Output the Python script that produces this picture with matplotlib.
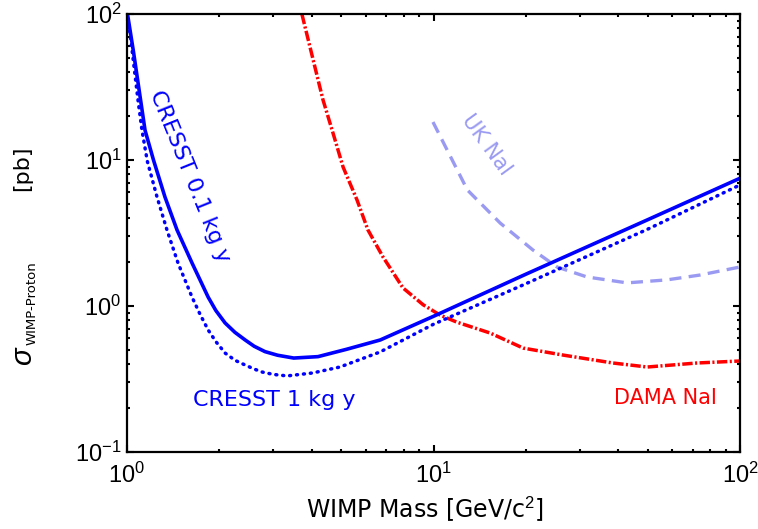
import numpy as np
import matplotlib
matplotlib.use("Agg")
import matplotlib.pyplot as plt
from matplotlib.ticker import LogLocator, FuncFormatter, NullFormatter

plt.rcParams['mathtext.fontset'] = 'custom'
plt.rcParams['mathtext.rm'] = 'Liberation Sans'
plt.rcParams['mathtext.it'] = 'Liberation Sans:italic'

# --- curves (WIMP mass in GeV/c^2, cross section in pb) ---
cresst01_mass = [1.0, 1.05, 1.145, 1.22, 1.33, 1.456, 1.63, 1.84, 1.95, 2.09, 2.25,
                 2.43, 2.6, 2.82, 3.1, 3.5, 4.2, 5.2, 6.7, 10, 20, 50, 100]
cresst01_sigma = [105, 55, 16.0, 10, 5.58, 3.32, 1.97, 1.15, 0.93, 0.765, 0.66,
                  0.585, 0.53, 0.487, 0.46, 0.44, 0.45, 0.505, 0.585, 0.85, 1.65, 3.9, 7.5]

cresst1_mass = [1.0, 1.023, 1.086, 1.119, 1.165, 1.253, 1.35, 1.467, 1.63, 1.73, 1.84,
                1.95, 2.09, 2.25, 2.43, 2.6, 2.76, 3.0, 3.33, 4.04, 4.95, 6.69, 10,
                20, 50, 100]
cresst1_sigma = [95, 74, 25.8, 16.0, 9.8, 5.58, 3.32, 1.97, 1.15, 0.88, 0.685,
                 0.57, 0.476, 0.425, 0.394, 0.37, 0.353, 0.34, 0.332, 0.348, 0.382,
                 0.484, 0.75, 1.42, 3.36, 6.75]

dama_mass = [3.72, 4.36, 4.70, 5.07, 5.63, 6.11, 6.84, 7.95, 9.25, 10.5, 11.9,
             15.3, 19.6, 26.5, 38.5, 49.8, 72.4, 100]
dama_sigma = [100, 25.8, 15.3, 8.95, 5.32, 3.32, 2.17, 1.33, 1.02, 0.867, 0.776,
              0.653, 0.515, 0.461, 0.407, 0.382, 0.407, 0.420]

uk_mass = [9.96, 12.9, 16.5, 21.1, 25.3, 31.7, 42.8, 57.8, 74.1, 100]
uk_sigma = [18.2, 6.23, 3.70, 2.42, 1.85, 1.58, 1.44, 1.51, 1.63, 1.85]

fig = plt.figure(figsize=(7.58, 5.29), dpi=100)
ax = fig.add_axes([127 / 758, 1 - 452 / 529, 613 / 758, 438 / 529])

ax.plot(uk_mass, uk_sigma, color='#9a9af2', lw=2.4, linestyle=(0, (3.6, 2.2)))
ax.plot(dama_mass, dama_sigma, color='#ff0000', lw=2.5,
        linestyle=(0, (3.0, 0.7, 0.6, 0.7)))
ax.plot(cresst1_mass, cresst1_sigma, color='#0000ff', lw=2.5,
        linestyle=(0, (0.3, 1.7)), dash_capstyle='round')
ax.plot(cresst01_mass, cresst01_sigma, color='#0000ff', lw=2.6)

ax.set_xscale('log')
ax.set_yscale('log')
ax.set_xlim(1, 100)
ax.set_ylim(0.1, 100)

def pow_label(v, pos):
    return r'$10^{%d}$' % int(round(np.log10(v)))

for axis in (ax.xaxis, ax.yaxis):
    axis.set_major_locator(LogLocator(base=10))
    axis.set_minor_locator(LogLocator(base=10, subs=np.arange(2, 10)))
    axis.set_major_formatter(FuncFormatter(pow_label))
    axis.set_minor_formatter(NullFormatter())

ax.tick_params(which='both', direction='in', top=True, right=True, width=1.5)
ax.tick_params(which='major', length=5, labelsize=17)
ax.tick_params(axis='y', which='major', pad=4)
ax.tick_params(axis='x', which='major', pad=8)
ax.tick_params(which='minor', length=2.5)
for s in ax.spines.values():
    s.set_linewidth(1.6)

lab = dict(family='DejaVu Sans')
ax.text(0.1028, 0.630, 'CRESST 0.1 kg y', color='#0000ff', rotation=-68, fontsize=16,
        rotation_mode='anchor', ha='center', va='center', transform=ax.transAxes, **lab)
ax.text(0.587, 0.701, 'UK NaI', color='#9a9af2', rotation=-54, fontsize=15,
        rotation_mode='anchor', ha='center', va='center', transform=ax.transAxes, **lab)
ax.text(0.240, 0.119, 'CRESST 1 kg y', color='#0000ff', ha='center', va='center',
        fontsize=16, transform=ax.transAxes, **lab)
ax.text(0.879, 0.123, 'DAMA NaI', color='#ff0000', ha='center', va='center',
        fontsize=15, transform=ax.transAxes, **lab)

fig.text(425 / 758, 1 - 518 / 529, r'WIMP Mass [GeV/c$^{\rm 2}$]', ha='center',
         va='baseline', fontsize=17, family='DejaVu Sans')
# y label built from three pieces to get the small subscript of the reference
fig.text(24 / 758, 1 - 356 / 529, r'$\sigma$', rotation=90, ha='center', va='center',
         fontsize=21)
fig.text(32 / 758, 1 - 303 / 529, 'WIMP-Proton', rotation=90, ha='center', va='center',
         fontsize=9.5, family='DejaVu Sans')
fig.text(22 / 758, 1 - 168 / 529, '[pb]', rotation=90, ha='center', va='center',
         fontsize=16, family='DejaVu Sans')

fig.savefig('out.png', dpi=100)
